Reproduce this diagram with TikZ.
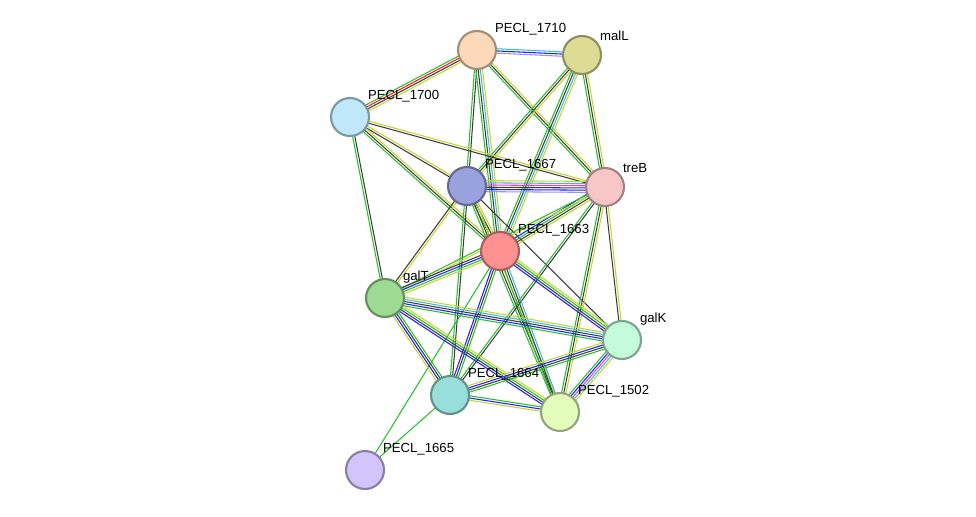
\documentclass[tikz,border=0pt]{standalone}
\usepackage{fontspec}
\setmainfont{Liberation Sans}
\usetikzlibrary{calc}
\definecolor{sgreen}{RGB}{40,190,40}
\definecolor{sgray}{RGB}{60,60,60}
\definecolor{syellow}{RGB}{196,212,42}
\definecolor{sblue}{RGB}{30,30,255}
\definecolor{scyan}{RGB}{60,185,215}
\definecolor{sred}{RGB}{240,30,30}
\definecolor{smag}{RGB}{225,60,225}
\definecolor{slilac}{RGB}{145,145,255}
\definecolor{cA}{RGB}{253,217,185}
\definecolor{cB}{RGB}{222,219,148}
\definecolor{cC}{RGB}{192,232,251}
\definecolor{cD}{RGB}{154,162,222}
\definecolor{cE}{RGB}{248,198,198}
\definecolor{cF}{RGB}{255,145,145}
\definecolor{cG}{RGB}{157,219,146}
\definecolor{cH}{RGB}{196,252,219}
\definecolor{cI}{RGB}{151,223,216}
\definecolor{cJ}{RGB}{226,253,188}
\definecolor{cK}{RGB}{211,196,251}
\pgfdeclarelayer{bg}
\pgfsetlayers{bg,main}
% one edge = several thin parallel lines
\newcommand\strlink[3]{%
  \def\nl{0}\foreach \c in {#3}{\pgfmathtruncatemacro\tmp{\nl+1}\global\let\nl\tmp}%
  \foreach \c [count=\i] in {#3}{%
    \pgfmathsetmacro\off{(\i-(\nl+1)/2)*1.25}%
    \draw[\c,line width=0.6pt] ($(#1)!\off pt!90:(#2)$) -- ($(#2)!\off pt!-90:(#1)$);}}
\tikzset{
  prot/.style={circle, minimum size=0.76cm, line width=1.2pt, fill=#1, draw=#1!65!black},
  lbl/.style={anchor=south west, inner sep=0pt, font=\fontsize{7.5}{8}\selectfont, xshift=2pt}
}
\begin{document}
\begin{tikzpicture}
    \useasboundingbox (0,0) rectangle (19.52,10.32);

    % proteins
    \node[prot=cA, label={[lbl]45:PECL\_1710}] (p1710) at (9.54,9.32) {};
    \node[prot=cB, label={[lbl]45:malL}] (malL) at (11.64,9.22) {};
    \node[prot=cC, label={[lbl]45:PECL\_1700}] (p1700) at (7.00,7.98) {};
    \node[prot=cD, label={[lbl]45:PECL\_1667}] (p1667) at (9.34,6.60) {};
    \node[prot=cE, label={[lbl]45:treB}] (treB) at (12.10,6.58) {};
    \node[prot=cF, label={[lbl]45:PECL\_1663}] (p1663) at (10.00,5.30) {};
    \node[prot=cG, label={[lbl]45:galT}] (galT) at (7.70,4.36) {};
    \node[prot=cH, label={[lbl]45:galK}] (galK) at (12.44,3.52) {};
    \node[prot=cI, label={[lbl]45:PECL\_1664}] (p1664) at (9.00,2.42) {};
    \node[prot=cJ, label={[lbl]45:PECL\_1502}] (p1502) at (11.20,2.08) {};
    \node[prot=cK, label={[lbl]45:PECL\_1665}] (p1665) at (7.30,0.92) {};

    % evidence links
    \begin{pgfonlayer}{bg}
    \strlink{p1710}{malL}{slilac,sblue,scyan}
    \strlink{p1710}{p1700}{sgreen,sred,sgray,syellow}
    \strlink{p1710}{p1667}{sgreen,sgray}
    \strlink{p1710}{p1663}{sgreen,sgray,scyan,syellow}
    \strlink{p1710}{treB}{sgreen,sgray,syellow}
    \strlink{malL}{p1667}{sgreen,sgray,syellow}
    \strlink{malL}{p1663}{sgreen,sgray,scyan,syellow}
    \strlink{malL}{treB}{sgreen,sgray,syellow}
    \strlink{p1700}{p1667}{sgray,syellow}
    \strlink{p1700}{p1663}{sgreen,sgray,syellow}
    \strlink{p1700}{treB}{sgray,syellow}
    \strlink{p1700}{galT}{sgreen,sgray}
    \strlink{p1667}{treB}{slilac,sblue,sgray,smag,scyan,syellow}
    \strlink{p1667}{p1663}{sgreen,sgray,syellow}
    \strlink{p1667}{galT}{sgray,syellow}
    \strlink{p1667}{p1664}{sgreen,sgray}
    \strlink{p1667}{p1502}{sgreen,sgray,syellow}
    \strlink{p1667}{galK}{sgray}
    \strlink{treB}{p1663}{sblue,sgreen,sgray,syellow}
    \strlink{treB}{galT}{sgreen,syellow}
    \strlink{treB}{galK}{sgray,syellow}
    \strlink{treB}{p1664}{sgreen,sgray}
    \strlink{treB}{p1502}{sgreen,sgray,syellow}
    \strlink{p1663}{galT}{sgray,sblue,sgreen,syellow}
    \strlink{p1663}{galK}{sblue,sgray,sgreen,syellow}
    \strlink{p1663}{p1664}{sblue,sgray,sgreen}
    \strlink{p1663}{p1502}{sgreen,sgray,scyan}
    \strlink{p1663}{p1665}{sgreen}
    \strlink{galT}{galK}{sgreen,sblue,sgray,scyan,syellow}
    \strlink{galT}{p1664}{syellow,sblue,sgray,sgreen}
    \strlink{galT}{p1502}{sblue,sgray,sgreen,syellow}
    \strlink{galK}{p1664}{syellow,sblue,sgray,sgreen}
    \strlink{galK}{p1502}{sgreen,sblue,smag,scyan,syellow}
    \strlink{p1664}{p1502}{syellow,sblue,sgreen}
    \strlink{p1664}{p1665}{sgreen}
    \end{pgfonlayer}
\end{tikzpicture}
\end{document}
